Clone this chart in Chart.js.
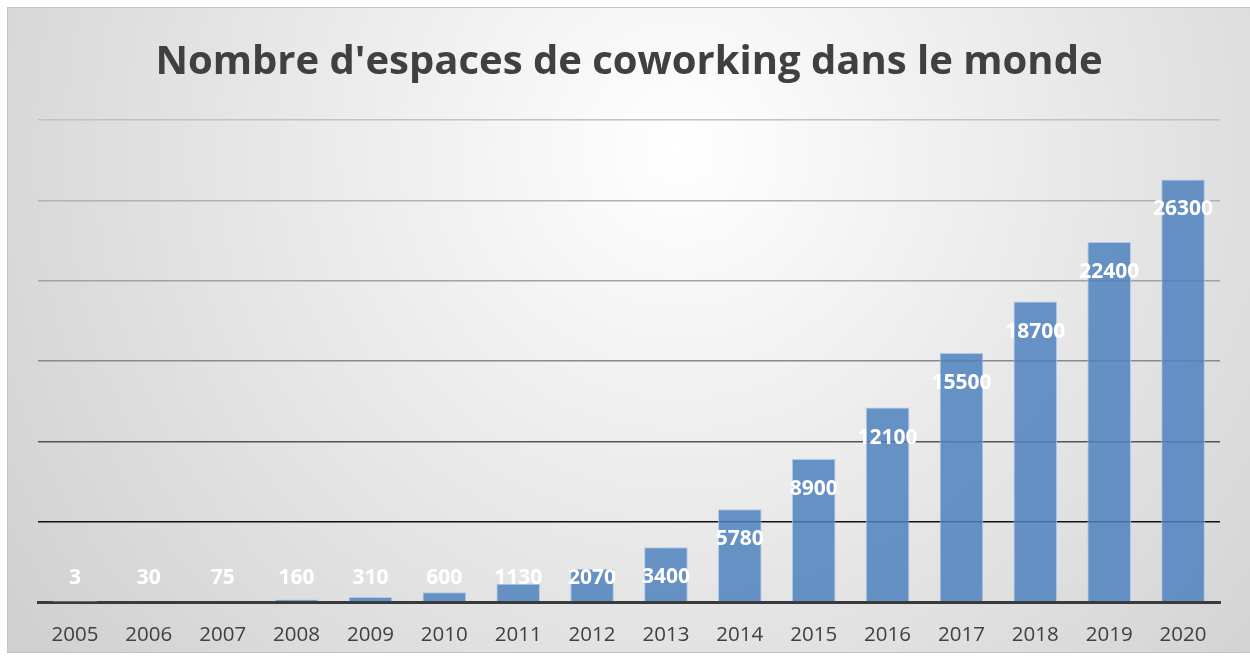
<!DOCTYPE html>
<html>
<head>
<meta charset="utf-8">
<script src="https://cdn.jsdelivr.net/npm/chart.js@4.4.1/dist/chart.umd.min.js"></script>
<style>
  html, body { margin: 0; padding: 0; background: #ffffff; }
  #wrap { width: 1250px; height: 657px; position: relative; }
</style>
</head>
<body>
<div id="wrap"><canvas id="c" width="1250" height="657"></canvas></div>
<script>
const chartTitle = "Nombre d'espaces de coworking dans le monde";
const years = ["2005","2006","2007","2008","2009","2010","2011","2012","2013","2014","2015","2016","2017","2018","2019","2020"];
const counts = [3, 30, 75, 160, 310, 600, 1130, 2070, 3400, 5780, 8900, 12100, 15500, 18700, 22400, 26300];
const yTickValues = [0, 5000, 10000, 15000, 20000, 25000, 30000];
const gridColors = ["rgba(0,0,0,0)", "#111111", "#555555", "#8a8a8a", "#a2a2a2", "#b2b2b2", "#c2c2c2"];

const backgroundPlugin = {
  id: 'bgPlugin',
  beforeDraw(chart) {
    const ctx = chart.ctx;
    const w = chart.width, h = chart.height;
    ctx.save();
    ctx.fillStyle = '#ffffff';
    ctx.fillRect(0, 0, w, h);
    const g = ctx.createRadialGradient(680, 150, 0, 680, 150, 820);
    g.addColorStop(0, '#ffffff');
    g.addColorStop(1, '#d0d0d0');
    ctx.fillStyle = g;
    ctx.fillRect(8, 8, w - 8, 644);
    ctx.strokeStyle = '#c4c4c4';
    ctx.lineWidth = 1;
    ctx.strokeRect(7.5, 7.5, w, 645);
    ctx.restore();
  }
};

const valueLabelPlugin = {
  id: 'valueLabels',
  afterDatasetsDraw(chart) {
    const ctx = chart.ctx;
    const meta = chart.getDatasetMeta(0);
    const base = chart.scales.y.getPixelForValue(0);
    ctx.save();
    ctx.font = 'bold 21px "Open Sans"';
    ctx.fillStyle = '#ffffff';
    ctx.textAlign = 'center';
    ctx.textBaseline = 'middle';
    meta.data.forEach((bar, i) => {
      const y = Math.min(bar.y + 30, base - 24);
      ctx.fillText(String(counts[i]), bar.x, y);
    });
    ctx.restore();
  }
};

new Chart(document.getElementById('c'), {
  type: 'bar',
  data: {
    labels: years,
    datasets: [{
      data: counts,
      backgroundColor: 'rgba(79,129,189,0.85)',
      borderColor: 'rgba(170,198,230,0.9)',
      borderWidth: 1,
      barPercentage: 0.59,
      categoryPercentage: 1.0
    }]
  },
  options: {
    responsive: false,
    animation: false,
    layout: { padding: { left: 38, right: 30, top: 0, bottom: 0 } },
    plugins: {
      legend: { display: false },
      tooltip: { enabled: false },
      title: {
        display: true,
        text: chartTitle,
        color: '#404040',
        font: { family: '"Open Sans"', size: 40, weight: 'bold', lineHeight: 1.2 },
        padding: { top: 39, bottom: 33 }
      }
    },
    scales: {
      x: {
        grid: { display: false },
        border: { display: true, color: '#3a3a3a', width: 3 },
        ticks: { color: '#404040', font: { family: '"Open Sans"', size: 20.5 }, padding: 13, maxRotation: 0 },
        afterFit(axis) { axis.height = 55; }
      },
      y: {
        min: 0,
        max: 30000,
        afterBuildTicks(axis) { axis.ticks = yTickValues.map(v => ({ value: v })); },
        ticks: { display: false, padding: 0 },
        border: { display: false },
        grid: {
          drawTicks: false,
          lineWidth: 1.5,
          color: (c) => gridColors[yTickValues.indexOf(c.tick.value)] || '#999'
        }
      }
    }
  },
  plugins: [backgroundPlugin, valueLabelPlugin]
});
</script>
</body>
</html>
